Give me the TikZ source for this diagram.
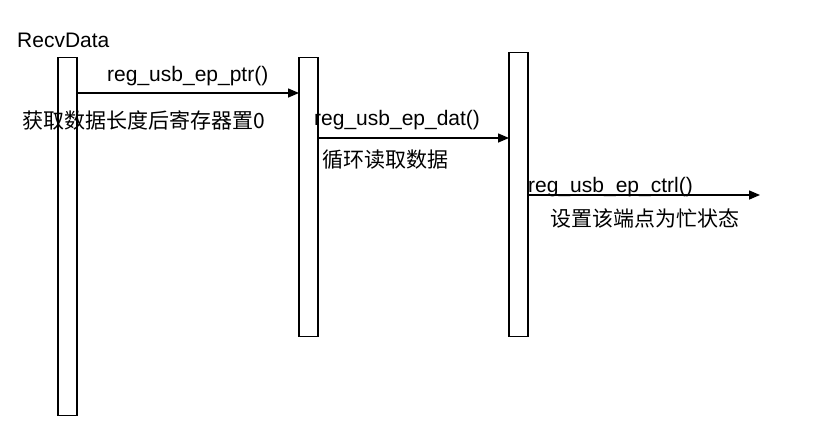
\documentclass[tikz,border=0pt]{standalone}
\usepackage{fontspec}
\setmainfont{Liberation Sans}
\newfontfamily\cjk{Noto Sans CJK SC}
\usetikzlibrary{arrows.meta}
\begin{document}
\begin{tikzpicture}[x=1pt,y=-1pt,
  bar/.style={draw,line width=1.3pt,fill=white,minimum width=19pt,inner sep=0pt,anchor=north},
  lbl/.style={font=\fontsize{21}{24}\selectfont,inner sep=0pt,anchor=base west},
  msg/.style={-{Triangle[length=11pt,width=9pt]},line width=1.5pt}]
\useasboundingbox (0,0) rectangle (824,434);
\node[bar,minimum height=358pt] (b1) at (67.5,57) {};
\node[bar,minimum height=279pt] (b2) at (308.5,57) {};
\node[bar,minimum height=284pt] (b3) at (518.5,52) {};
\node[lbl] (t0) at (17,47) {RecvData};
\coordinate (a1s) at (77,93); \coordinate (a1e) at (299,93);
\draw[msg] (a1s) -- (a1e);
\node[lbl] (t1) at (107,81) {reg\_usb\_ep\_ptr()};
\node[lbl] (t1b) at (22,128) {\cjk 获取数据长度后寄存器置0};
\coordinate (a2s) at (318,138); \coordinate (a2e) at (509,138);
\draw[msg] (a2s) -- (a2e);
\node[lbl] (t2) at (314,125) {reg\_usb\_ep\_dat()};
\node[lbl] (t2b) at (322,167) {\cjk 循环读取数据};
\coordinate (a3s) at (528,195); \coordinate (a3e) at (760,195);
\draw[msg] (a3s) -- (a3e);
\node[lbl] (t3) at (528,192) {reg\_usb\_ep\_ctrl()};
\node[lbl] (t3b) at (550,226) {\cjk 设置该端点为忙状态};
\end{tikzpicture}
\end{document}
